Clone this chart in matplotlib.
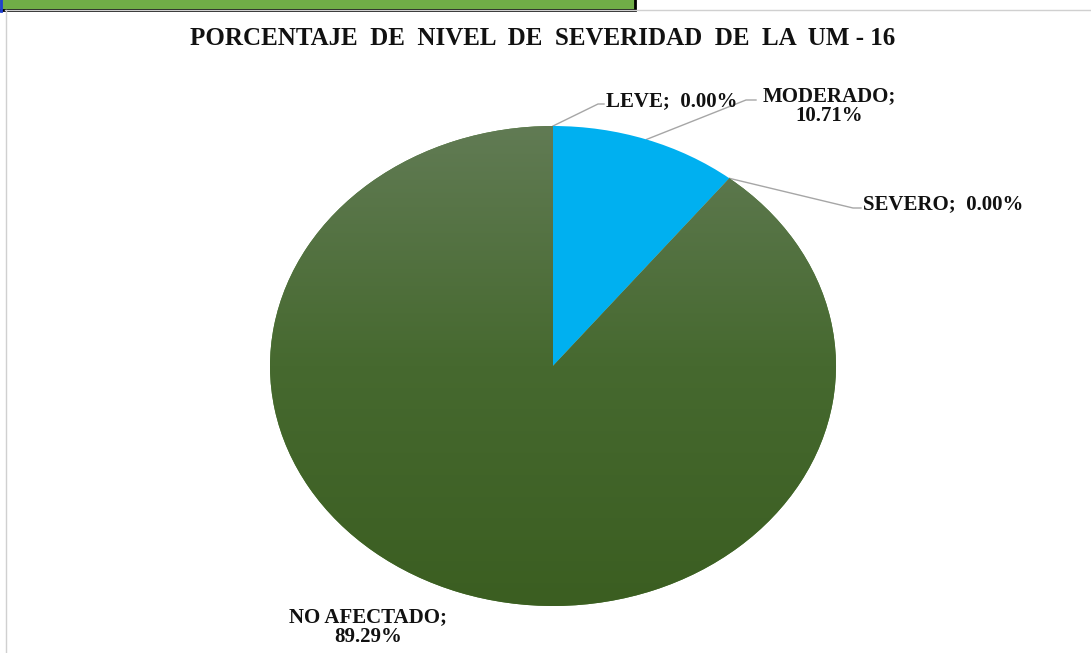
import numpy as np
import matplotlib
matplotlib.use("Agg")
import matplotlib.pyplot as plt
from matplotlib.patches import Rectangle
from matplotlib.colors import LinearSegmentedColormap

# Severity levels and their shares (%)
categories = ["LEVE", "MODERADO", "SEVERO", "NO AFECTADO"]
values = [0.00, 10.71, 0.00, 89.29]
title = "PORCENTAJE  DE  NIVEL  DE  SEVERIDAD  DE  LA  UM - 16"

W, H = 1091, 653
fig = plt.figure(figsize=(W / 100, H / 100), dpi=100)
fig.patch.set_facecolor("white")

# background layer in pixel coordinates (sheet header strip and chart frame)
bg = fig.add_axes([0, 0, 1, 1])
bg.set_xlim(0, W)
bg.set_ylim(H, 0)
bg.axis("off")
bg.add_patch(Rectangle((-2, -2), 637, 12, facecolor="#70AD47",
                       edgecolor="black", linewidth=2))
bg.plot([1, 1], [0, 11], color="#1F3FD0", lw=2)
bg.plot([5, W], [9.5, 9.5], color="#D0D0D0", lw=1)
bg.plot([5.5, 5.5], [9.5, H], color="#D0D0D0", lw=1)

# pie area: centre (553, 366), half-width 283 px, half-height 240 px
cx, cy, rx, ry = 553, 366, 283, 240
ax = fig.add_axes([(cx - rx) / W, (H - cy - ry) / H, 2 * rx / W, 2 * ry / H])
colors = ["#A5A5A5", "#00B0F0", "#FFC000", "#4E7A34"]
wedges, _ = ax.pie(values, colors=colors, startangle=90, counterclock=False,
                   radius=1.0, wedgeprops=dict(linewidth=0))
ax.set_aspect("auto")
ax.set_xlim(-1, 1)
ax.set_ylim(-1, 1)
ax.axis("off")

# vertical gradient fill on the largest slice
grad_cmap = LinearSegmentedColormap.from_list(
    "g", ["#3B5E21", "#46692F", "#617B54"])
grad = np.linspace(0, 1, 256).reshape(-1, 1)
im = ax.imshow(grad, cmap=grad_cmap, extent=(-1, 1, -1, 1), origin="lower",
               aspect="auto", zorder=wedges[3].get_zorder() + 0.1)
im.set_clip_path(wedges[3])

# data labels with leader lines (pixel coordinates on the background layer)
font = dict(family=["Liberation Serif", "DejaVu Serif"], fontweight="bold",
            fontsize=15, color="#111111")
lc = "#A6A6A6"


def edge_point(angle_deg):
    a = np.deg2rad(angle_deg)
    return cx + rx * np.cos(a), cy - ry * np.sin(a)


cum = np.cumsum([0] + values)
mids = [90 - 3.6 * (cum[i] + cum[i + 1]) / 2 for i in range(len(values))]

# LEVE
p = edge_point(mids[0])
bg.plot([p[0], 598, 604], [p[1], 104, 104], color=lc, lw=1)
bg.text(606, 101, f"{categories[0]};  {values[0]:.2f}%", ha="left",
        va="center", **font)
# MODERADO
p = edge_point(mids[1])
bg.plot([p[0], 746, 756], [p[1], 100, 100], color=lc, lw=1)
bg.text(829, 106, f"{categories[1]};\n{values[1]:.2f}%", ha="center",
        va="center", linespacing=1.05, **font)
# SEVERO
p = edge_point(mids[2])
bg.plot([p[0], 853, 861], [p[1], 208, 208], color=lc, lw=1)
bg.text(863, 204, f"{categories[2]};  {values[2]:.2f}%", ha="left",
        va="center", **font)
# NO AFECTADO
bg.text(368, 627, f"{categories[3]};\n{values[3]:.2f}%", ha="center",
        va="center", linespacing=1.05, **font)

fig.text(543 / W, 1 - 38.5 / H, title, ha="center", va="center",
         family=["Liberation Serif", "DejaVu Serif"], fontweight="bold",
         fontsize=18, color="#111111")

fig.savefig("out.png", dpi=100, facecolor="white")
